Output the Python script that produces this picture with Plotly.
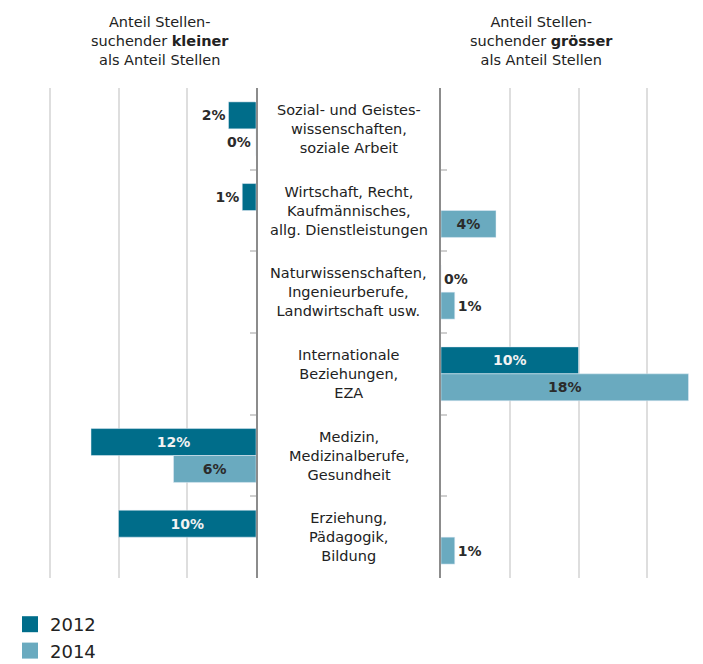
import plotly.graph_objects as go

# Kategorien (von oben nach unten)
kategorien = [
    "Sozial- und Geistes-<br>wissenschaften,<br>soziale Arbeit",
    "Wirtschaft, Recht,<br>Kaufmännisches,<br>allg. Dienstleistungen",
    "Naturwissenschaften,<br>Ingenieurberufe,<br>Landwirtschaft usw.",
    "Internationale<br>Beziehungen,<br>EZA",
    "Medizin,<br>Medizinalberufe,<br>Gesundheit",
    "Erziehung,<br>Pädagogik,<br>Bildung",
]

# Anteil Stellensuchender kleiner als Anteil Stellen (linke Seite)
kleiner_2012 = [2, 1, None, None, 12, 10]
kleiner_2014 = [0, None, None, None, 6, None]

# Anteil Stellensuchender grösser als Anteil Stellen (rechte Seite)
groesser_2012 = [None, None, 0, 10, None, None]
groesser_2014 = [None, 4, 1, 18, None, 1]

jahre = ["2012", "2014"]
farben = {"2012": "#006d8a", "2014": "#6aaabf"}
textfarbe_innen = {"2012": "#f2f2f2", "2014": "#2b2b2b"}

W, H = 703, 664
PX_PRO_PROZENT = 13.75
LINKS_ACHSE = 256   # Pixel der linken Nulllinie
RECHTS_ACHSE = 441  # Pixel der rechten Nulllinie
BARGAP = 0.34
FONT = "DejaVu Sans"
WERT_FONT = dict(family=FONT, size=14)


def textpos(werte, links=False):
    pos = []
    for v in werte:
        if v is not None and v >= 4:
            pos.append("inside")
        elif links and v == 0:
            pos.append("none")  # wird als Annotation links der Achse gesetzt
        else:
            pos.append("outside")
    return pos


fig = go.Figure()

for jahr, werte in zip(jahre, [kleiner_2012, kleiner_2014]):
    fig.add_trace(go.Bar(
        y=kategorien, x=werte, orientation="h", xaxis="x", yaxis="y",
        marker_color=farben[jahr], name=jahr, showlegend=False,
        texttemplate="<b>%{x:.0f}%</b>", textposition=textpos(werte, links=True),
        insidetextanchor="middle", constraintext="none", cliponaxis=False,
        insidetextfont=dict(WERT_FONT, color=textfarbe_innen[jahr]),
        outsidetextfont=dict(WERT_FONT, color="#2b2b2b"),
        hoverinfo="skip",
    ))

for jahr, werte in zip(jahre, [groesser_2012, groesser_2014]):
    fig.add_trace(go.Bar(
        y=kategorien, x=werte, orientation="h", xaxis="x2", yaxis="y2",
        marker_color=farben[jahr], name=jahr, showlegend=False,
        texttemplate="<b>%{x:.0f}%</b>", textposition=textpos(werte),
        insidetextanchor="middle", constraintext="none", cliponaxis=False,
        insidetextfont=dict(WERT_FONT, color=textfarbe_innen[jahr]),
        outsidetextfont=dict(WERT_FONT, color="#2b2b2b"),
        hoverinfo="skip",
    ))

# 0%-Werte auf der linken Seite: Beschriftung links der Nulllinie
balken = (1 - BARGAP) / 2
for j, werte in enumerate([kleiner_2012, kleiner_2014]):
    for i, v in enumerate(werte):
        if v == 0:
            fig.add_annotation(
                x=0, xref="x", xanchor="right", xshift=-3,
                y=i + (j - 0.5) * balken, yref="y",
                text=f"<b>{v}%</b>", showarrow=False,
                font=dict(WERT_FONT, color="#2b2b2b"),
            )

# Legende über Platzhalter-Traces mit quadratischen Markern
for jahr in jahre:
    fig.add_trace(go.Scatter(
        x=[None], y=[None], mode="markers", name=jahr, xaxis="x", yaxis="y",
        marker=dict(symbol="square", size=20, color=farben[jahr]),
    ))

# Kategorienbeschriftungen in der Mitte
for kat in kategorien:
    fig.add_annotation(
        x=(LINKS_ACHSE + RECHTS_ACHSE) / 2 / W, xref="paper", xanchor="center",
        y=kat, yref="y", text=kat, showarrow=False, align="center",
        font=dict(family=FONT, size=14.5, color="#222222"),
    )

# Überschriften
kopf = [
    (160, "Anteil Stellen-<br>suchender <b>kleiner</b><br>als Anteil Stellen"),
    (541, "Anteil Stellen-<br>suchender <b>grösser</b><br>als Anteil Stellen"),
]
for xpix, txt in kopf:
    fig.add_annotation(
        x=xpix / W, xref="paper", xanchor="center",
        y=1, yref="paper", yanchor="bottom", yshift=18,
        text=txt, showarrow=False, align="center",
        font=dict(family=FONT, size=14.5, color="#222222"),
    )

achse_x = dict(showticklabels=False, showgrid=True, gridcolor="#dedede",
               gridwidth=2, dtick=5, tick0=0, zeroline=False, fixedrange=True)
achse_y = dict(showticklabels=False, showgrid=False, showline=True,
               linecolor="#8c8c8c", linewidth=1.5, ticks="inside", ticklen=6,
               tickcolor="#cfcfcf", tickwidth=1.5, tickson="boundaries",
               autorange="reversed", fixedrange=True)

fig.update_layout(
    width=W, height=H,
    margin=dict(l=0, r=0, t=88, b=86, autoexpand=False),
    paper_bgcolor="white", plot_bgcolor="white",
    barmode="group", bargap=BARGAP, bargroupgap=0,
    font=dict(family=FONT, color="#222222"),
    xaxis=dict(achse_x, domain=[0, LINKS_ACHSE / W],
               range=[LINKS_ACHSE / PX_PRO_PROZENT, 0], anchor="y"),
    xaxis2=dict(achse_x, domain=[RECHTS_ACHSE / W, 1],
                range=[0, (W - RECHTS_ACHSE) / PX_PRO_PROZENT], anchor="y2"),
    yaxis=dict(achse_y, anchor="x", side="right"),
    yaxis2=dict(achse_y, anchor="x2", side="left", matches="y"),
    legend=dict(x=10 / W, xref="container", xanchor="left",
                y=1 - 606 / H, yref="container", yanchor="top",
                orientation="v", font=dict(family=FONT, size=18, color="#222222"),
                tracegroupgap=0, itemclick=False),
)

# Seitenrand des Browsers entfernen, damit die Grafik bei (0, 0) beginnt
fig.write_html("out.html", config={"displayModeBar": False},
               post_script="document.body.style.margin='0px';")
